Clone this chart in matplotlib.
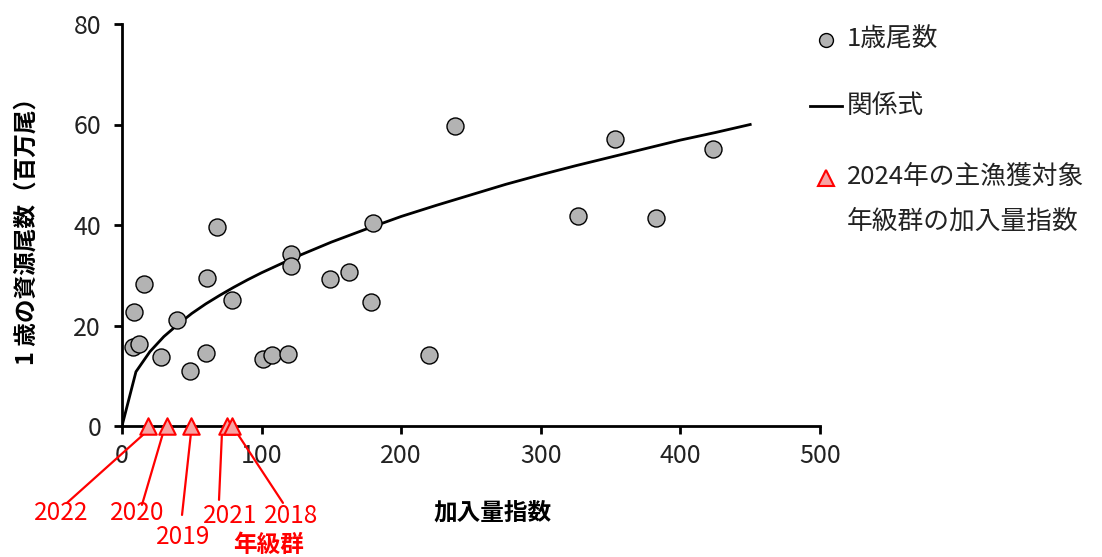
import numpy as np
import matplotlib
matplotlib.use("Agg")
import matplotlib.pyplot as plt
from matplotlib.lines import Line2D

plt.rcParams['font.family'] = ['Noto Sans CJK JP', 'DejaVu Sans']

# recruitment index vs. age-1 stock numbers (million fish)
recruit_index = [7.9, 8.6, 12.2, 15.8, 27.9, 39.4, 48.7, 60.2, 60.9, 68.1,
                 78.8, 101.0, 107.4, 118.9, 121.0, 121.0, 149.0, 162.6, 178.4, 179.8,
                 219.9, 238.3, 326.6, 353.0, 382.5, 423.4]
age1_number = [15.7, 22.7, 16.3, 28.3, 13.7, 21.1, 10.9, 14.5, 29.5, 39.6,
               25.1, 13.3, 14.1, 14.3, 34.2, 31.8, 29.3, 30.6, 24.7, 40.4,
               14.1, 59.7, 41.8, 57.1, 41.4, 55.1]

# relationship curve
curve_x = [0, 10, 20, 30, 40, 50, 60, 70, 80, 90, 100, 125, 150, 175, 200,
           225, 250, 275, 300, 325, 350, 375, 400, 425, 450]
curve_y = [0.0, 10.8, 14.8, 17.8, 20.2, 22.4, 24.3, 26.0, 27.6, 29.1, 30.5,
           33.7, 36.6, 39.2, 41.7, 43.9, 46.0, 48.1, 50.0, 51.8, 53.5, 55.2,
           56.9, 58.4, 60.0]

# 2024 main target year classes
year_classes = ['2022', '2020', '2019', '2021', '2018']
target_index = [18.6, 32.2, 49.4, 75.2, 78.8]

# label layout (data units): text x, text y, line start x, line start y, line end dx
label_layout = [(-43.7, -17.3, -39.4, -15.3, -2.1),
                (10.7, -17.3, 14.3, -15.7, -2.8),
                (43.7, -22.1, 43.0, -17.7, 0.0),
                (77.4, -17.9, 69.5, -14.7, -3.6),
                (121.1, -17.9, 115.3, -15.3, 3.6)]

legend_labels = ['1歳尾数', '関係式', '2024年の主漁獲対象', '年級群の加入量指数']

W, H = 1102, 557


def fx(px):
    return px / W


def fy(py):
    return 1 - py / H


fig = plt.figure(figsize=(W / 100, H / 100), dpi=100)
ax = fig.add_axes([fx(122), fy(426), 698 / W, 402 / H])

pt_face = '#b3b3b3'
tri_face = '#f7a3a3'
txt_col = '#222222'

ax.plot(curve_x, curve_y, color='black', lw=2, zorder=2)
ax.scatter(recruit_index, age1_number, s=150, facecolor=pt_face,
           edgecolor='black', linewidth=1, zorder=3)
ax.scatter(target_index, np.zeros(len(target_index)), marker='^', s=140,
           facecolor=tri_face, edgecolor='red', linewidth=1.5, zorder=4,
           clip_on=False)

for yr, tx, (lx, ly, sx, sy, dx) in zip(year_classes, target_index, label_layout):
    ax.annotate('', xy=(tx + dx, -1.4), xytext=(sx, sy),
                arrowprops=dict(arrowstyle='-', color='red', lw=1.6,
                                shrinkA=0, shrinkB=0),
                annotation_clip=False)
    ax.text(lx, ly, yr, color='red', fontsize=17.5, ha='center', va='center',
            clip_on=False)
ax.text(105.3, -23.7, '年級群', color='red', fontsize=17, fontweight='bold',
        ha='center', va='center', clip_on=False)

ax.set_xlim(0, 500)
ax.set_ylim(0, 80)
ax.set_xticks([0, 100, 200, 300, 400, 500])
ax.set_yticks([0, 20, 40, 60, 80])
for s in ['top', 'right']:
    ax.spines[s].set_visible(False)
for s in ['left', 'bottom']:
    ax.spines[s].set_linewidth(2)
ax.tick_params(axis='both', direction='out', length=6, width=2,
               labelsize=18, colors='black')
ax.tick_params(axis='x', pad=6)
ax.tick_params(axis='y', pad=9)
for lbl in ax.get_xticklabels() + ax.get_yticklabels():
    lbl.set_color(txt_col)

ax.set_xlabel('加入量指数', fontsize=17, fontweight='bold')
ax.xaxis.set_label_coords((493 - 122) / 698, (426 - 500) / 402)
ax.set_ylabel('1 歳の資源尾数（百万尾）', fontsize=17, fontweight='bold')
ax.yaxis.set_label_coords((39 - 122) / 698, 0.5)

# legend, placed by hand so the triangle sits on the first text line
fig.add_artist(Line2D([fx(826)], [fy(40)], ls='none', marker='o', markersize=10,
                      markerfacecolor=pt_face, markeredgecolor='black',
                      markeredgewidth=1, transform=fig.transFigure))
fig.add_artist(Line2D([fx(810), fx(842)], [fy(106), fy(106)], color='black',
                      lw=2, transform=fig.transFigure))
fig.add_artist(Line2D([fx(826)], [fy(178)], ls='none', marker='^', markersize=11,
                      markerfacecolor=tri_face, markeredgecolor='red',
                      markeredgewidth=1.5, transform=fig.transFigure))
for lab, py in zip(legend_labels, [40, 106, 177, 222]):
    fig.text(fx(847), fy(py), lab, fontsize=18.5, color=txt_col,
             ha='left', va='center')

fig.savefig('out.png', dpi=100)
